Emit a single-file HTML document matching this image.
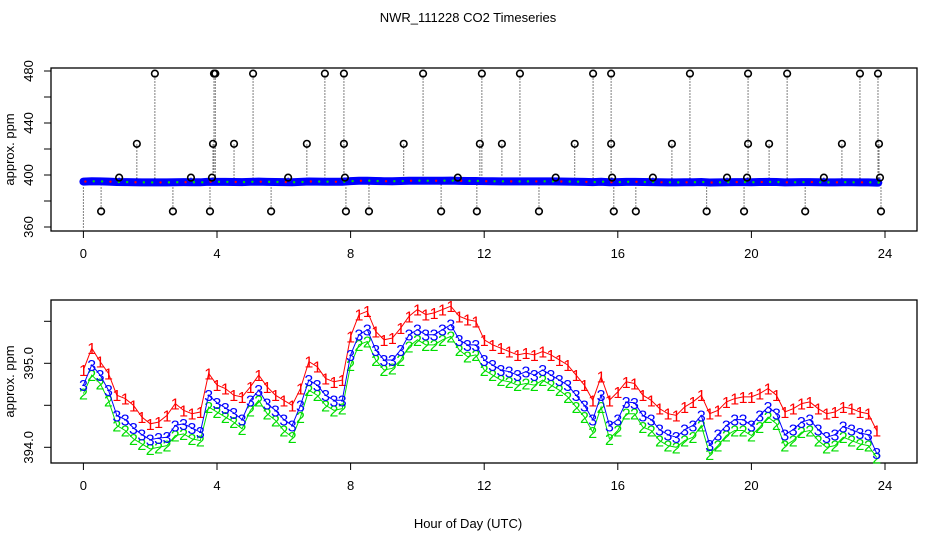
<!DOCTYPE html>
<html><head><meta charset="utf-8"><style>
body{margin:0;background:#fff}
svg{display:block;font-family:"Liberation Sans",sans-serif}
</style></head><body>
<svg id="c" width="936" height="540" viewBox="0 0 936 540">
<rect width="936" height="540" fill="#fff"/>
<text x="468" y="22" text-anchor="middle" font-size="13">NWR_111228  CO2 Timeseries</text>
<text x="468" y="528" text-anchor="middle" font-size="13">Hour of Day (UTC)</text>
<g id="topPanel"></g>
<g id="botPanel"></g>
</svg>
<script>
const hours=[0,0.25,0.5,0.75,1,1.25,1.5,1.75,2,2.25,2.5,2.75,3,3.25,3.5,3.75,4,4.25,4.5,4.75,5,5.25,5.5,5.75,6,6.25,6.5,6.75,7,7.25,7.5,7.75,8,8.25,8.5,8.75,9,9.25,9.5,9.75,10,10.25,10.5,10.75,11,11.25,11.5,11.75,12,12.25,12.5,12.75,13,13.25,13.5,13.75,14,14.25,14.5,14.75,15,15.25,15.5,15.75,16,16.25,16.5,16.75,17,17.25,17.5,17.75,18,18.25,18.5,18.75,19,19.25,19.5,19.75,20,20.25,20.5,20.75,21,21.25,21.5,21.75,22,22.25,22.5,22.75,23,23.25,23.5,23.75];
const series3=[394.74,394.98,394.86,394.68,394.38,394.33,394.23,394.15,394.09,394.11,394.12,394.26,394.28,394.23,394.18,394.62,394.53,394.47,394.41,394.33,394.56,394.68,394.52,394.44,394.33,394.26,394.50,394.80,394.74,394.62,394.56,394.56,395.10,395.34,395.40,395.16,395.04,395.04,395.16,395.34,395.40,395.34,395.34,395.40,395.46,395.28,395.22,395.22,395.04,394.98,394.92,394.90,394.86,394.90,394.86,394.92,394.86,394.80,394.74,394.62,394.50,394.33,394.62,394.26,394.33,394.54,394.53,394.38,394.33,394.21,394.15,394.12,394.21,394.26,394.38,394.03,394.15,394.26,394.33,394.33,394.26,394.38,394.48,394.40,394.15,394.21,394.30,394.33,394.21,394.12,394.15,394.25,394.21,394.17,394.15,393.93];
const series1=[394.92,395.18,395.02,394.88,394.62,394.58,394.50,394.36,394.28,394.30,394.38,394.52,394.44,394.40,394.42,394.88,394.74,394.70,394.62,394.60,394.72,394.86,394.72,394.62,394.56,394.50,394.70,395.02,394.96,394.82,394.78,394.80,395.32,395.58,395.62,395.38,395.28,395.30,395.42,395.56,395.64,395.58,395.60,395.64,395.68,395.56,395.52,395.50,395.28,395.22,395.18,395.14,395.10,395.12,395.10,395.14,395.10,395.04,394.98,394.86,394.74,394.56,394.84,394.56,394.66,394.78,394.76,394.62,394.56,394.46,394.40,394.38,394.48,394.54,394.62,394.40,394.44,394.54,394.58,394.60,394.60,394.64,394.70,394.62,394.42,394.46,394.52,394.54,394.46,394.40,394.42,394.48,394.46,394.42,394.40,394.20];
const series2=[394.64,394.86,394.76,394.56,394.26,394.20,394.10,394.04,393.98,394.00,394.02,394.14,394.16,394.10,394.08,394.48,394.42,394.36,394.30,394.22,394.44,394.56,394.40,394.32,394.20,394.12,394.36,394.68,394.62,394.50,394.44,394.46,394.98,395.22,395.26,395.04,394.92,394.94,395.04,395.20,395.28,395.22,395.22,395.28,395.32,395.16,395.08,395.10,394.92,394.86,394.80,394.78,394.74,394.76,394.74,394.80,394.74,394.68,394.60,394.48,394.36,394.18,394.48,394.10,394.20,394.40,394.40,394.24,394.20,394.08,394.02,394.00,394.08,394.12,394.26,393.92,394.02,394.14,394.20,394.20,394.14,394.24,394.36,394.28,394.02,394.08,394.18,394.20,394.08,394.00,394.02,394.12,394.08,394.04,394.02,393.88];
const outlierHours=[2.14,3.91,3.95,5.08,7.23,7.80,10.17,11.93,13.07,15.26,15.80,18.16,19.90,21.07,23.25,23.79,1.60,3.88,4.51,6.69,7.80,9.59,11.87,12.53,14.71,15.80,17.62,19.90,20.53,22.71,23.82,1.07,3.22,3.85,6.13,7.83,11.21,14.14,15.83,17.05,19.27,19.87,22.17,23.85,0.53,2.68,3.79,5.62,7.86,8.55,10.71,11.78,13.64,15.88,16.54,18.66,19.78,21.61,23.88];
const outlierValues=[478,478,478,478,478,478,478,478,478,478,478,478,478,478,478,478,424,424,424,424,424,424,424,424,424,424,424,424,424,424,424,398,398,398,398,398,398,398,398,398,398,398,398,398,372,372,372,372,372,372,372,372,372,372,372,372,372,372,372];
const xTicks=[0,4,8,12,16,20,24];
const topYTicks=[360,380,400,420,440,460,480];
const topYLabels=[360,440,400,480];
const botYTicks=[394.0,394.5,395.0,395.5];
const botYLabels=["394.0","395.0"];

const NS="http://www.w3.org/2000/svg";
function mk(tag,attrs,parent){const e=document.createElementNS(NS,tag);for(const k in attrs)e.setAttribute(k,attrs[k]);parent.appendChild(e);return e;}
const X=h=>83.4+h*33.4;
const Yt=v=>175+(400-v)*1.3;
const Yb=v=>447.3-(v-394)*84;
const topG=document.getElementById('topPanel'),botG=document.getElementById('botPanel');

function axes(g,y0,y1,yTicks,Yf,labels,name){
  let r=mk('rect',{x:51,y:y0,width:866,height:y1-y0,fill:'none',stroke:'#000','stroke-width':1.3},g);
  
  
  xTicks.forEach(t=>{
    let l=mk('line',{x1:X(t),x2:X(t),y1:y1,y2:y1+7,stroke:'#000'},g);
    
    
    let tx=mk('text',{x:X(t),y:y1+27,'text-anchor':'middle','font-size':13},g);
    tx.textContent=t;
    
    
  });
  yTicks.forEach(t=>{
    let l=mk('line',{x1:44,x2:51,y1:Yf(t),y2:Yf(t),stroke:'#000'},g);
    
    
  });
  labels.forEach(t=>{
    let y=Yf(+t);
    let tx=mk('text',{x:33,y:y,'text-anchor':'middle','font-size':13,transform:`rotate(-90 33 ${y})`},g);
    tx.textContent=t;
    
    
  });
  let yc=(y0+y1)/2;
  let tt=mk('text',{x:14,y:yc,'text-anchor':'middle','font-size':13,transform:`rotate(-90 14 ${yc})`},g);
  tt.textContent='approx. ppm';
  
  
}
axes(topG,68,231,topYTicks,Yt,topYLabels,'top');
axes(botG,300,463,botYTicks,Yb,botYLabels,'bottom');

outlierHours.forEach((h,i)=>{
  let l=mk('line',{x1:X(h),x2:X(h),y1:Yt(395),y2:Yt(outlierValues[i]),stroke:'#000','stroke-dasharray':'1 2'},topG);
  
  
});
let s0=mk('line',{x1:X(0),x2:X(0),y1:Yt(395),y2:Yt(358),stroke:'#000','stroke-dasharray':'1 2'},topG);


let bandPts=hours.map((h,i)=>X(h)+','+Yt(series3[i]+0.2)).join(' ');
bandPts+=' '+X(23.8)+','+Yt(series3[series3.length-1]+0.2);
let band=mk('polyline',{points:bandPts,fill:'none',stroke:'#0000ff','stroke-width':8,'stroke-linecap':'round'},topG);


hours.forEach((h,i)=>{
  let c=mk('circle',{cx:X(h)+2,cy:Yt(series3[i]+0.2),r:1.2,fill:(i%3==0)?'#ff0000':'#00dd00'},topG);
  
  
});
outlierHours.forEach((h,i)=>{
  let c=mk('circle',{cx:X(h),cy:Yt(outlierValues[i]),r:3.3,fill:'none',stroke:'#000','stroke-width':1.6},topG);
  
  
});

const defs=[[series1,'#ff0000','1'],[series2,'#00dd00','2'],[series3,'#0000ff','3']];
defs.forEach(([s,col,lab])=>{
  let pts=hours.map((h,i)=>X(h)+','+Yb(s[i])).join(' ');
  let pl=mk('polyline',{points:pts,fill:'none',stroke:col,'stroke-width':1},botG);
  
  
  hours.forEach((h,i)=>{
    let t=mk('text',{x:X(h),y:Yb(s[i])+6,'text-anchor':'middle','font-size':16,fill:col},botG);
    t.textContent=lab;
    
    
  });
});
</script>
</body></html>
